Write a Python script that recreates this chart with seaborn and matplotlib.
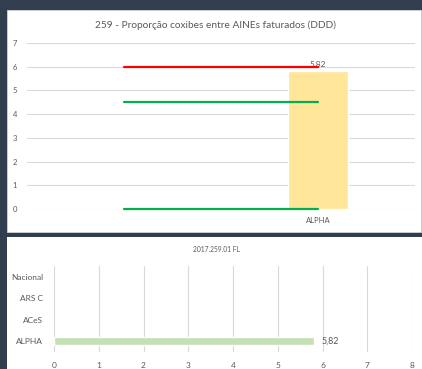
import numpy as np
import pandas as pd
import matplotlib
matplotlib.use("Agg")
import matplotlib.pyplot as plt
from matplotlib.patches import Rectangle
import seaborn as sns

# Indicator 259 - share of coxibs among invoiced NSAIDs (DDD)
top_categories = ["", "ALPHA"]
top_values = [np.nan, 5.82]
upper_limit = 6.0
expected_upper = 4.5
expected_lower = 0.0

bottom_categories = ["Nacional", "ARS C", "ACeS", "ALPHA"]
bottom_values = [np.nan, np.nan, np.nan, 5.82]

title_top = "259 - Proporção coxibes entre AINEs faturados (DDD)"
title_bottom = "2017.259.01 FL"

DARK = "#323e4f"
GRID = "#d9d9d9"
TXT = "#595959"
YELLOW = "#ffe699"
LGREEN = "#c5e0b4"
GREEN = "#00b050"
RED = "#ff0000"

sns.set_theme(style="white")
plt.rcParams["font.family"] = ["Lato", "DejaVu Sans"]

W, H = 422, 369
fig = plt.figure(figsize=(W / 100, H / 100), dpi=100, facecolor=DARK)


def fx(px):
    return px / W


def fy(py):
    return 1 - py / H


def comma(v):
    return f"{v:.2f}".replace(".", ",")


# white chart panels
fig.patches.append(Rectangle((fx(7), fy(232)), fx(421) - fx(7), fy(10) - fy(232),
                             transform=fig.transFigure, facecolor="white",
                             edgecolor="#d0d3d8", linewidth=0.6, zorder=-5))
fig.patches.append(Rectangle((fx(7), fy(369)), fx(422) - fx(7), fy(237) - fy(369),
                             transform=fig.transFigure, facecolor="white",
                             edgecolor="none", zorder=-5))

# ---- top chart ----
ax1 = fig.add_axes([fx(27), fy(209), fx(415) - fx(27), fy(43) - fy(209)])
ax1.set_facecolor("none")
df_top = pd.DataFrame({"cat": top_categories, "val": top_values}).dropna()
sns.barplot(data=df_top, x="cat", y="val", order=top_categories, color=YELLOW,
            saturation=1, width=0.31, ax=ax1, zorder=2)
for c in ax1.containers:
    ax1.bar_label(c, fmt=comma, padding=2, fontsize=6, color=TXT)
xpos = np.arange(len(top_categories))
for level, col in [(upper_limit, RED), (expected_upper, GREEN), (expected_lower, GREEN)]:
    sns.lineplot(x=xpos, y=[level] * len(xpos), color=col, linewidth=1.6,
                 ax=ax1, zorder=3, clip_on=False)
ax1.set_xlim(-0.5, len(top_categories) - 0.5)
ax1.set_xticks(xpos)
ax1.set_xticklabels(top_categories)
ax1.set_ylim(0, 7)
ax1.set_yticks(range(0, 8))
ax1.grid(axis="y", color=GRID, linewidth=0.8)
ax1.grid(axis="x", visible=False)
ax1.set_axisbelow(True)
ax1.tick_params(axis="y", labelsize=5.5, colors=TXT, length=0, pad=7)
ax1.tick_params(axis="x", labelsize=5.5, colors=TXT, length=0, pad=6)
ax1.set_xlabel("")
ax1.set_ylabel("")
for s in ax1.spines.values():
    s.set_visible(False)
fig.text(fx(216), fy(25), title_top, ha="center", va="center", fontsize=7.3, color=TXT)

# ---- bottom chart ----
ax2 = fig.add_axes([fx(54), fy(352), fx(412) - fx(54), fy(266) - fy(352)])
ax2.set_facecolor("none")
df_bot = pd.DataFrame({"cat": bottom_categories, "val": bottom_values}).dropna()
sns.barplot(data=df_bot, x="val", y="cat", order=bottom_categories, orient="h",
            color=LGREEN, saturation=1, width=0.37, ax=ax2, zorder=2)
for c in ax2.containers:
    ax2.bar_label(c, fmt=comma, padding=5, fontsize=6.5, color=TXT)
ax2.set_xlim(0, 8)
ax2.set_ylim(len(bottom_categories) - 0.5, -0.5)
ax2.set_yticks(np.arange(len(bottom_categories)))
ax2.set_yticklabels(bottom_categories)
ax2.set_xticks(range(0, 9))
ax2.grid(axis="x", color=GRID, linewidth=0.8)
ax2.grid(axis="y", visible=False)
ax2.set_axisbelow(True)
ax2.tick_params(axis="y", labelsize=6, colors=TXT, length=0, pad=8)
ax2.tick_params(axis="x", labelsize=6, colors=TXT, length=0, pad=7)
ax2.set_xlabel("")
ax2.set_ylabel("")
for s in ax2.spines.values():
    s.set_visible(False)
fig.text(fx(216), fy(250), title_bottom, ha="center", va="center", fontsize=4.8, color=TXT)

fig.savefig("out.png", dpi=100, facecolor=DARK)
